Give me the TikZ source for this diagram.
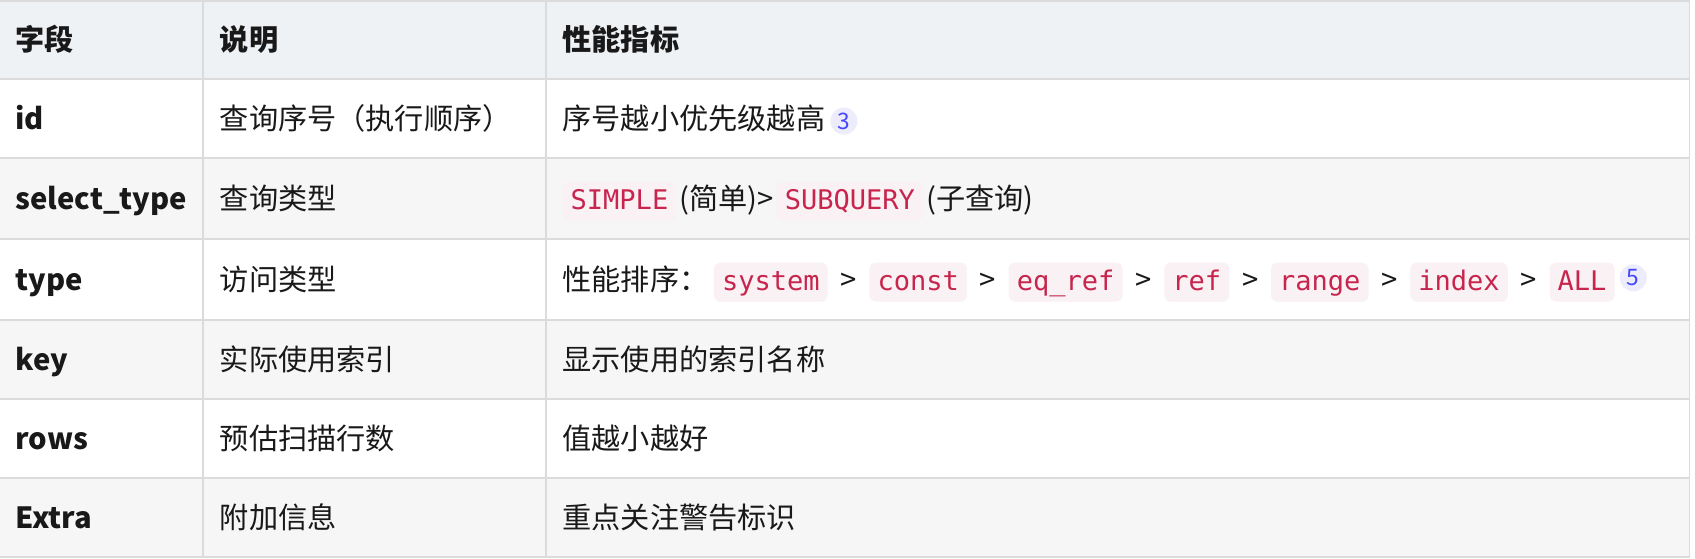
\documentclass[tikz,border=0pt]{standalone}
\usepackage{fontspec}
\setmainfont{Noto Sans CJK SC}
\newfontfamily\codefont{DejaVu Sans Mono}
\definecolor{hdbg}{RGB}{239,242,245}
\definecolor{chipbg}{RGB}{249,241,243}
\definecolor{chipfg}{RGB}{199,37,78}
\definecolor{fnbg}{RGB}{236,236,252}
\definecolor{fnfg}{RGB}{70,70,255}
\begin{document}
\begin{tikzpicture}[x=0.5pt,y=-0.5pt,
  grid/.style={draw=black!14,line width=0.8pt},
  txt/.style={anchor=base west,inner sep=0pt,font=\fontsize{13.5}{15}\selectfont,text=black!90},
  hd/.style={txt,font=\fontsize{13.5}{15}\selectfont\bfseries},
  chip/.style={anchor=base west,fill=chipbg,rounded corners=3pt,inner xsep=3.75pt,inner ysep=0pt,text height=13pt,text depth=5pt,text=chipfg,font=\codefont\fontsize{12.5}{14}\selectfont},
  fn/.style={circle,fill=fnbg,text=fnfg,inner sep=0pt,minimum size=12.5pt,font=\fontsize{10.5}{11}\selectfont}]
\useasboundingbox (0,0) rectangle (1568,517);
\fill[white] (0,0) rectangle (1568,517);
\fill[hdbg] (0,0) rectangle (1563,73);
\foreach \a/\b in {146/221,296/369,442/515}
  \fill[black!3.5] (0,\a) rectangle (1563,\b);
\foreach \y in {1,73,146,221,296,369,442,515} \draw[grid] (0,\y) -- (1563,\y);
\foreach \x in {188,505,1563} \draw[grid] (\x,1) -- (\x,515);
% header
\node[hd] (h1) at (14,47) {字段};
\node[hd] (h2) at (203,47) {说明};
\node[hd] (h3) at (520,47) {性能指标};
% rows
\node[hd] (r1a) at (14,120) {id};
\node[txt] (r1b) at (203,120) {查询序号（执行顺序）};
\node[txt] (r1c) at (520,120) {序号越小优先级越高};
\node[fn,anchor=west] (f3) at ([xshift=2pt,yshift=4pt]r1c.base east) {3};
\node[hd] (r2a) at (14,194) {select\_type};
\node[txt] (r2b) at (203,194) {查询类型};
\node[chip] (c1) at (520,194) {SIMPLE};
\node[txt] (t1) at ([xshift=1pt]c1.base east) {(简单)>};
\node[chip] (c2) at ([xshift=1pt]t1.base east) {SUBQUERY};
\node[txt] (t2) at ([xshift=1pt]c2.base east) {(子查询)};
\node[hd] (r3a) at (14,269) {type};
\node[txt] (r3b) at (203,269) {访问类型};
\node[txt] (r3c) at (520,269) {性能排序：};
\node[chip] (s1) at (660,269) {system};
\node[txt] (g1) at ([xshift=5.5pt]s1.base east) {>};
\node[chip] (s2) at ([xshift=5.5pt]g1.base east) {const};
\node[txt] (g2) at ([xshift=5.5pt]s2.base east) {>};
\node[chip] (s3) at ([xshift=5.5pt]g2.base east) {eq\_ref};
\node[txt] (g3) at ([xshift=5.5pt]s3.base east) {>};
\node[chip] (s4) at ([xshift=5.5pt]g3.base east) {ref};
\node[txt] (g4) at ([xshift=5.5pt]s4.base east) {>};
\node[chip] (s5) at ([xshift=5.5pt]g4.base east) {range};
\node[txt] (g5) at ([xshift=5.5pt]s5.base east) {>};
\node[chip] (s6) at ([xshift=5.5pt]g5.base east) {index};
\node[txt] (g6) at ([xshift=5.5pt]s6.base east) {>};
\node[chip] (s7) at ([xshift=5.5pt]g6.base east) {ALL};
\node[fn,anchor=west] (f5) at ([xshift=2pt,yshift=6pt]s7.base east) {5};
\node[hd] (r4a) at (14,343) {key};
\node[txt] (r4b) at (203,343) {实际使用索引};
\node[txt] (r4c) at (520,343) {显示使用的索引名称};
\node[hd] (r5a) at (14,416) {rows};
\node[txt] (r5b) at (203,416) {预估扫描行数};
\node[txt] (r5c) at (520,416) {值越小越好};
\node[hd] (r6a) at (14,489) {Extra};
\node[txt] (r6b) at (203,489) {附加信息};
\node[txt] (r6c) at (520,489) {重点关注警告标识};
\end{tikzpicture}
\end{document}
